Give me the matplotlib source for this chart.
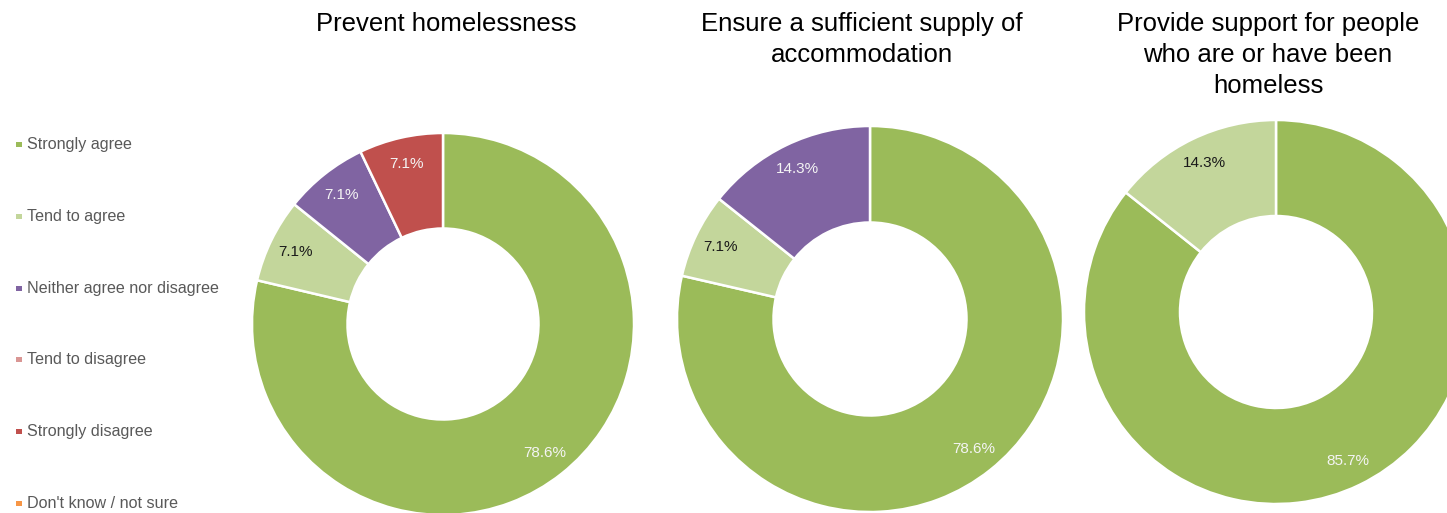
import matplotlib
matplotlib.use("Agg")
import matplotlib.pyplot as plt
import numpy as np

plt.rcParams['font.family'] = ['Liberation Sans', 'DejaVu Sans']

W, H = 1447, 513

categories = ["Strongly agree", "Tend to agree", "Neither agree nor disagree",
              "Tend to disagree", "Strongly disagree", "Don't know / not sure"]
colors = ["#9BBB59", "#C3D69B", "#8064A2", "#D99694", "#C0504D", "#F79646"]

titles = ["Prevent homelessness",
          "Ensure a sufficient supply of\naccommodation",
          "Provide support for people\nwho are or have been\nhomeless"]

prevent_homelessness = [78.6, 7.1, 7.1, 0.0, 7.1, 0.0]
sufficient_supply = [78.6, 7.1, 14.3, 0.0, 0.0, 0.0]
support_people = [85.7, 14.3, 0.0, 0.0, 0.0, 0.0]
series = [prevent_homelessness, sufficient_supply, support_people]

label_colors = ["#F4F4F4", "#1a1a1a", "#F4F4F4", "#F4F4F4", "#F4F4F4", "#F4F4F4"]

# layout (pixels)
centers = [(443, 324), (870, 319), (1276, 312)]
radii = [191, 193, 192]
title_x = [446, 862, 1268]

fig = plt.figure(figsize=(W / 100, H / 100), dpi=100)
fig.patch.set_facecolor("white")

for vals, (cx, cy), R, title, tx in zip(series, centers, radii, titles, title_x):
    ax = fig.add_axes([(cx - R) / W, (H - cy - R) / H, 2 * R / W, 2 * R / H])
    idx = [i for i, v in enumerate(vals) if v > 0]
    v = [vals[i] for i in idx]
    c = [colors[i] for i in idx]
    wedges, _ = ax.pie(v, colors=c, startangle=90, counterclock=False, radius=1,
                       wedgeprops=dict(width=0.5, edgecolor="white", linewidth=1.8))
    for w in wedges:
        w.set_clip_on(False)
    total = sum(v)
    start = 90.0
    for val, i in zip(v, idx):
        ang = start - val / total * 360 / 2
        start -= val / total * 360
        r = 0.86
        ax.text(r * np.cos(np.radians(ang)), r * np.sin(np.radians(ang)),
                f"{val:.1f}%", ha="center", va="center", fontsize=11,
                color=label_colors[i])
    ax.set_xlim(-1, 1)
    ax.set_ylim(-1, 1)
    ax.set_aspect("auto")
    ax.axis("off")
    fig.text(tx / W, 1 - 12 / H, title, ha="center", va="top", fontsize=18.5,
             color="#000000", linespacing=1.37)

# legend
top_px, bot_px = 108.6, 539.4
lax = fig.add_axes([0, (H - bot_px) / H, 230 / W, (bot_px - top_px) / H])
lax.set_xlim(0, 230)
lax.set_ylim(5.5, -0.5)
lax.axis("off")
ypos = np.arange(len(categories))
lax.scatter([19] * len(categories), ypos, marker="s", s=14, c=colors, linewidths=0)
for y, cat in zip(ypos, categories):
    lax.text(27, y, cat, ha="left", va="center", fontsize=11.6, color="#595959")

fig.savefig("out.png", dpi=100, facecolor="white")
